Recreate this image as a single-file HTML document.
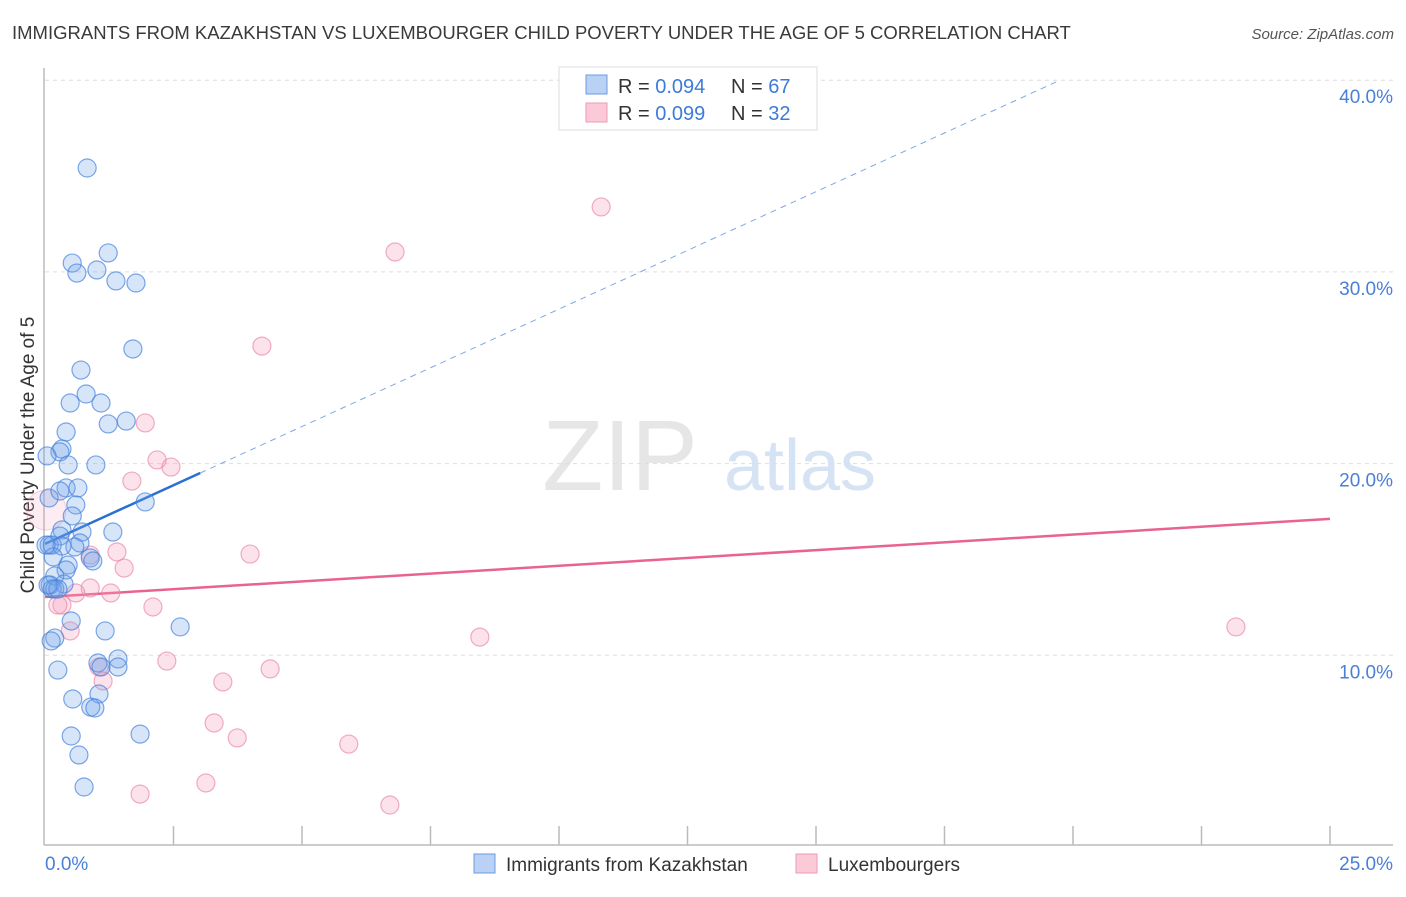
<!DOCTYPE html>
<html><head><meta charset="utf-8">
<style>
body{margin:0;background:#fff;font-family:"Liberation Sans",sans-serif;}
svg text{font-family:"Liberation Sans",sans-serif;}
</style></head>
<body>
<svg id="chart" width="1406" height="892" xmlns="http://www.w3.org/2000/svg">
<text x="12" y="39" font-size="18.5" fill="#3a3a3a">IMMIGRANTS FROM KAZAKHSTAN VS LUXEMBOURGER CHILD POVERTY UNDER THE AGE OF 5 CORRELATION CHART</text>
<text x="1394" y="39" font-size="15" fill="#555" text-anchor="end" font-style="italic">Source: ZipAtlas.com</text>
<text x="620" y="490" font-size="100" fill="#e6e6e6" font-family="Liberation Serif" text-anchor="middle">ZIP</text>
<text x="800" y="490" font-size="72" fill="#d6e3f5" text-anchor="middle">atlas</text>
<g id="grid"></g>
<line x1="44" y1="68" x2="44" y2="845" stroke="#bbb" stroke-width="1.5"/>
<line x1="44" y1="845" x2="1393" y2="845" stroke="#bbb" stroke-width="1.5"/>
<g id="xticks"></g>
<text transform="translate(34,455) rotate(-90)" font-size="19" fill="#333" text-anchor="middle">Child Poverty Under the Age of 5</text>
<text x="45" y="870" font-size="19" fill="#4a7fd6">0.0%</text>
<text x="1393" y="870" font-size="19" fill="#4a7fd6" text-anchor="end">25.0%</text>
<g id="lines"></g>
<g id="pts"></g>
<g>
<rect x="559" y="67" width="258" height="63" fill="#fff" stroke="#ddd"/>
<rect x="586" y="75" width="21" height="19" fill="#b8d1f5" stroke="#6a9be0"/>
<rect x="586" y="103" width="21" height="19" fill="#fbc9d8" stroke="#eb9ab6"/>
<text x="618" y="93" font-size="20" fill="#333">R = <tspan fill="#3d7bd9">0.094</tspan></text>
<text x="731" y="93" font-size="20" fill="#333">N = <tspan fill="#3d7bd9">67</tspan></text>
<text x="618" y="120" font-size="20" fill="#333">R = <tspan fill="#3d7bd9">0.099</tspan></text>
<text x="731" y="120" font-size="20" fill="#333">N = <tspan fill="#3d7bd9">32</tspan></text>
</g>
<g>
<rect x="474" y="854" width="21" height="19" fill="#b8d1f5" stroke="#6a9be0"/>
<text x="506" y="871" font-size="19" fill="#333">Immigrants from Kazakhstan</text>
</g>
<g>
<rect x="796" y="854" width="21" height="19" fill="#fbc9d8" stroke="#eb9ab6"/>
<text x="828" y="871" font-size="19" fill="#333">Luxembourgers</text>
</g>
</svg>
<script>
const yTicks=[10,20,30,40];
const yTickLabels=["10.0%","20.0%","30.0%","40.0%"];
const blueX=[0.82,1.23,0.53,0.62,1.01,1.38,1.77,1.71,0.70,0.80,0.49,1.09,1.58,1.23,0.41,0.33,0.29,0.04,0.45,0.99,1.95,0.08,0.41,0.64,0.29,0.60,0.53,0.33,0.72,1.32,0.29,0.68,0.08,0.14,0.58,0.33,0.16,0.88,0.93,0.45,0.41,0.19,0.10,0.37,0.14,0.19,0.25,2.63,0.51,1.17,0.19,0.12,0.25,1.42,1.03,1.09,1.42,0.54,1.05,0.89,0.97,0.51,1.85,0.66,0.76,0.02,0.06];
const blueY=[35.42,30.99,30.46,29.94,30.10,29.53,29.42,25.98,24.88,23.63,23.16,23.16,22.22,22.07,21.65,20.76,20.61,20.40,19.93,19.93,18.00,18.21,18.73,18.73,18.57,17.84,17.27,16.54,16.43,16.43,16.22,15.86,15.75,15.75,15.65,15.70,15.13,15.08,14.92,14.71,14.45,14.14,13.67,13.72,13.46,13.46,13.46,11.48,11.79,11.27,10.90,10.75,9.23,9.81,9.60,9.39,9.39,7.72,7.98,7.30,7.25,5.79,5.89,4.80,3.13,15.75,13.67];
const pinkX=[10.82,6.81,4.22,1.95,2.18,2.45,1.69,0.02,1.40,3.99,1.54,0.88,0.88,0.60,1.28,0.33,2.10,0.25,0.49,8.46,23.17,2.37,4.38,1.05,1.13,3.46,3.29,3.74,5.91,1.85,3.13,6.71];
const pinkY=[33.39,31.04,26.13,22.12,20.19,19.82,19.09,17.58,15.39,15.28,14.55,15.23,13.51,13.25,13.25,12.62,12.52,12.62,11.27,10.95,11.48,9.70,9.29,9.39,8.66,8.61,6.47,5.69,5.37,2.76,3.34,2.19];
const pinkSize=[9,9,9,9,9,9,9,20,9,9,9,9,9,9,9,9,9,9,9,9,9,9,9,9,9,9,9,9,9,9,9,9];
const blueTrend=[15.81,1.225];
const blueSolidEnd=3.02;
const blueDashEnd=19.75;
const pinkTrend=[13.04,0.163];

const NS="http://www.w3.org/2000/svg";
const X=v=>45+v*51.4;
const Y=v=>847-v*19.17;
function mk(tag,attrs,parent){const e=document.createElementNS(NS,tag);for(const k in attrs)e.setAttribute(k,attrs[k]);document.getElementById(parent).appendChild(e);return e;}

yTicks.forEach((t,i)=>{
  const l=mk('line',{x1:45,x2:1393,y1:Y(t),y2:Y(t),stroke:'#ddd','stroke-dasharray':'4,4'},'grid');
  
  
  const tx=mk('text',{x:1393,y:Y(t)+23,'font-size':19,fill:'#4a7fd6','text-anchor':'end'},'grid');
  tx.textContent=yTickLabels[i];
  
  
});
for(let i=1;i<=10;i++){
  const l=mk('line',{x1:X(i*2.5),x2:X(i*2.5),y1:826,y2:845,stroke:'#bbb','stroke-width':1.5},'xticks');
  
  
}
let l=mk('line',{x1:X(0),y1:Y(blueTrend[0]),x2:X(blueSolidEnd),y2:Y(blueTrend[0]+blueTrend[1]*blueSolidEnd),stroke:'#2a6fd6','stroke-width':2.5},'lines');


l=mk('line',{x1:X(blueSolidEnd),y1:Y(blueTrend[0]+blueTrend[1]*blueSolidEnd),x2:X(blueDashEnd),y2:Y(blueTrend[0]+blueTrend[1]*blueDashEnd),stroke:'#7fa8e4','stroke-width':1,'stroke-dasharray':'6,5'},'lines');


l=mk('line',{x1:X(0),y1:Y(pinkTrend[0]),x2:X(25),y2:Y(pinkTrend[0]+pinkTrend[1]*25),stroke:'#e8648f','stroke-width':2.5},'lines');



pinkX.forEach((v,i)=>{
  const big=pinkSize[i]>12;
  const c=mk('circle',{cx:X(v),cy:Y(pinkY[i]),r:pinkSize[i],fill:big?'rgba(246,160,188,0.2)':'rgba(246,160,188,0.3)',stroke:big?'rgba(232,130,165,0.3)':'rgba(232,130,165,0.65)','stroke-width':1.2},'pts');
  
  
});
blueX.forEach((v,i)=>{
  const c=mk('circle',{cx:X(v),cy:Y(blueY[i]),r:9,fill:'rgba(110,160,235,0.28)',stroke:'rgba(70,130,220,0.7)','stroke-width':1.2},'pts');
  
  
});
</script>
</body></html>
